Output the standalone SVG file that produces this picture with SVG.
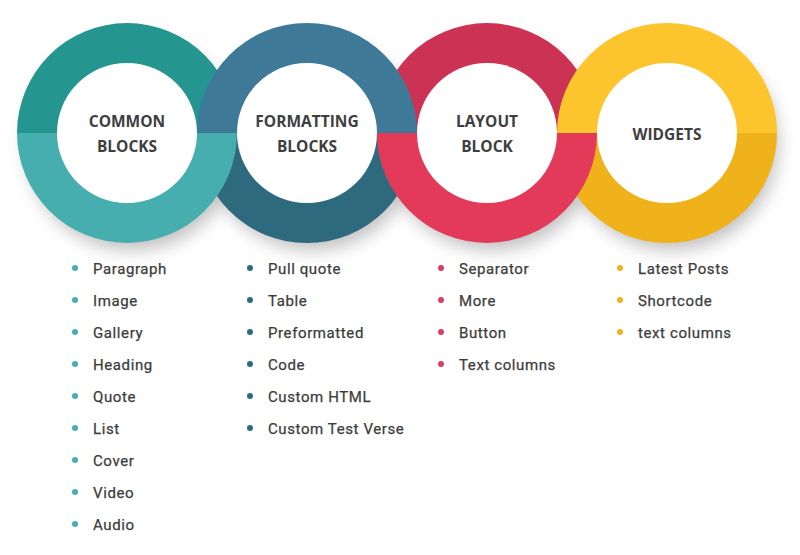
<svg xmlns="http://www.w3.org/2000/svg" width="800" height="555" viewBox="0 0 800 555">
<defs>
<filter id="sh" x="-30%" y="-30%" width="160%" height="160%">
<feGaussianBlur stdDeviation="9"/>
</filter>
<style>
.hd{font-family:"Open Sans","Liberation Sans",sans-serif;font-weight:700;font-size:15.5px;fill:#3e3e3e;text-anchor:middle}
.it{font-family:Roboto,"Liberation Sans",sans-serif;font-weight:400;font-size:15px;fill:#3c3c3c;letter-spacing:0.6px;stroke:#3c3c3c;stroke-width:0.25px}
.w{fill:#ffffff}
</style>
</defs>
<rect width="800" height="555" fill="#ffffff"/>
<g id="shadows" filter="url(#sh)" fill="#000" opacity="0.25">
<circle cx="132" cy="144" r="106"/>
<circle cx="312" cy="144" r="106"/>
<circle cx="492" cy="144" r="106"/>
<circle cx="672" cy="144" r="106"/>
</g>
<g id="rings">
<path d="M17,133 A110,110 0 0 1 237,133 Z" fill="#25958f"/>
<path d="M377,133 A110,110 0 0 1 597,133 Z" fill="#cb3253"/>
<path d="M197,133 A110,110 0 0 1 417,133 Z" fill="#3e7a97"/>
<path d="M557,133 A110,110 0 0 1 777,133 Z" fill="#fcc52e"/>
<path d="M197,133 A110,110 0 0 0 417,133 Z" fill="#2e6a7e"/>
<path d="M557,133 A110,110 0 0 0 777,133 Z" fill="#f0b21a"/>
<path d="M17,133 A110,110 0 0 0 237,133 Z" fill="#47aeb0"/>
<path d="M377,133 A110,110 0 0 0 597,133 Z" fill="#e33a5a"/>
</g>
<g id="common">
<circle class="w" cx="127" cy="133" r="70"/>
<text class="hd" x="127" y="127">COMMON</text>
<text class="hd" x="127" y="152">BLOCKS</text>
<g fill="#47aeb0">
<circle cx="75" cy="268" r="3"/><circle cx="75" cy="300" r="3"/><circle cx="75" cy="332" r="3"/>
<circle cx="75" cy="364" r="3"/><circle cx="75" cy="396" r="3"/><circle cx="75" cy="428" r="3"/>
<circle cx="75" cy="460" r="3"/><circle cx="75" cy="492" r="3"/><circle cx="75" cy="524" r="3"/>
</g>
<text class="it" x="93" y="274">Paragraph</text>
<text class="it" x="93" y="306">Image</text>
<text class="it" x="93" y="338">Gallery</text>
<text class="it" x="93" y="370">Heading</text>
<text class="it" x="93" y="402">Quote</text>
<text class="it" x="93" y="434">List</text>
<text class="it" x="93" y="466">Cover</text>
<text class="it" x="93" y="498">Video</text>
<text class="it" x="93" y="530">Audio</text>
</g>
<g id="formatting">
<circle class="w" cx="307" cy="133" r="70"/>
<text class="hd" x="307" y="127">FORMATTING</text>
<text class="hd" x="307" y="152">BLOCKS</text>
<g fill="#2e6a7e">
<circle cx="250" cy="268" r="3"/><circle cx="250" cy="300" r="3"/><circle cx="250" cy="332" r="3"/>
<circle cx="250" cy="364" r="3"/><circle cx="250" cy="396" r="3"/><circle cx="250" cy="428" r="3"/>
</g>
<text class="it" x="268" y="274">Pull quote</text>
<text class="it" x="268" y="306">Table</text>
<text class="it" x="268" y="338">Preformatted</text>
<text class="it" x="268" y="370">Code</text>
<text class="it" x="268" y="402">Custom HTML</text>
<text class="it" x="268" y="434">Custom Test Verse</text>
</g>
<g id="layout">
<circle class="w" cx="487" cy="133" r="70"/>
<text class="hd" x="487" y="127">LAYOUT</text>
<text class="hd" x="487" y="152">BLOCK</text>
<g fill="#e33a5a">
<circle cx="441" cy="268" r="3"/><circle cx="441" cy="300" r="3"/><circle cx="441" cy="332" r="3"/>
<circle cx="441" cy="364" r="3"/>
</g>
<text class="it" x="459" y="274">Separator</text>
<text class="it" x="459" y="306">More</text>
<text class="it" x="459" y="338">Button</text>
<text class="it" x="459" y="370">Text columns</text>
</g>
<g id="widgets">
<circle class="w" cx="667" cy="133" r="70"/>
<text class="hd" x="667" y="140">WIDGETS</text>
<g fill="#f0b21a">
<circle cx="620" cy="268" r="3"/><circle cx="620" cy="300" r="3"/><circle cx="620" cy="332" r="3"/>
</g>
<text class="it" x="638" y="274">Latest Posts</text>
<text class="it" x="638" y="306">Shortcode</text>
<text class="it" x="638" y="338">text columns</text>
</g>
</svg>
